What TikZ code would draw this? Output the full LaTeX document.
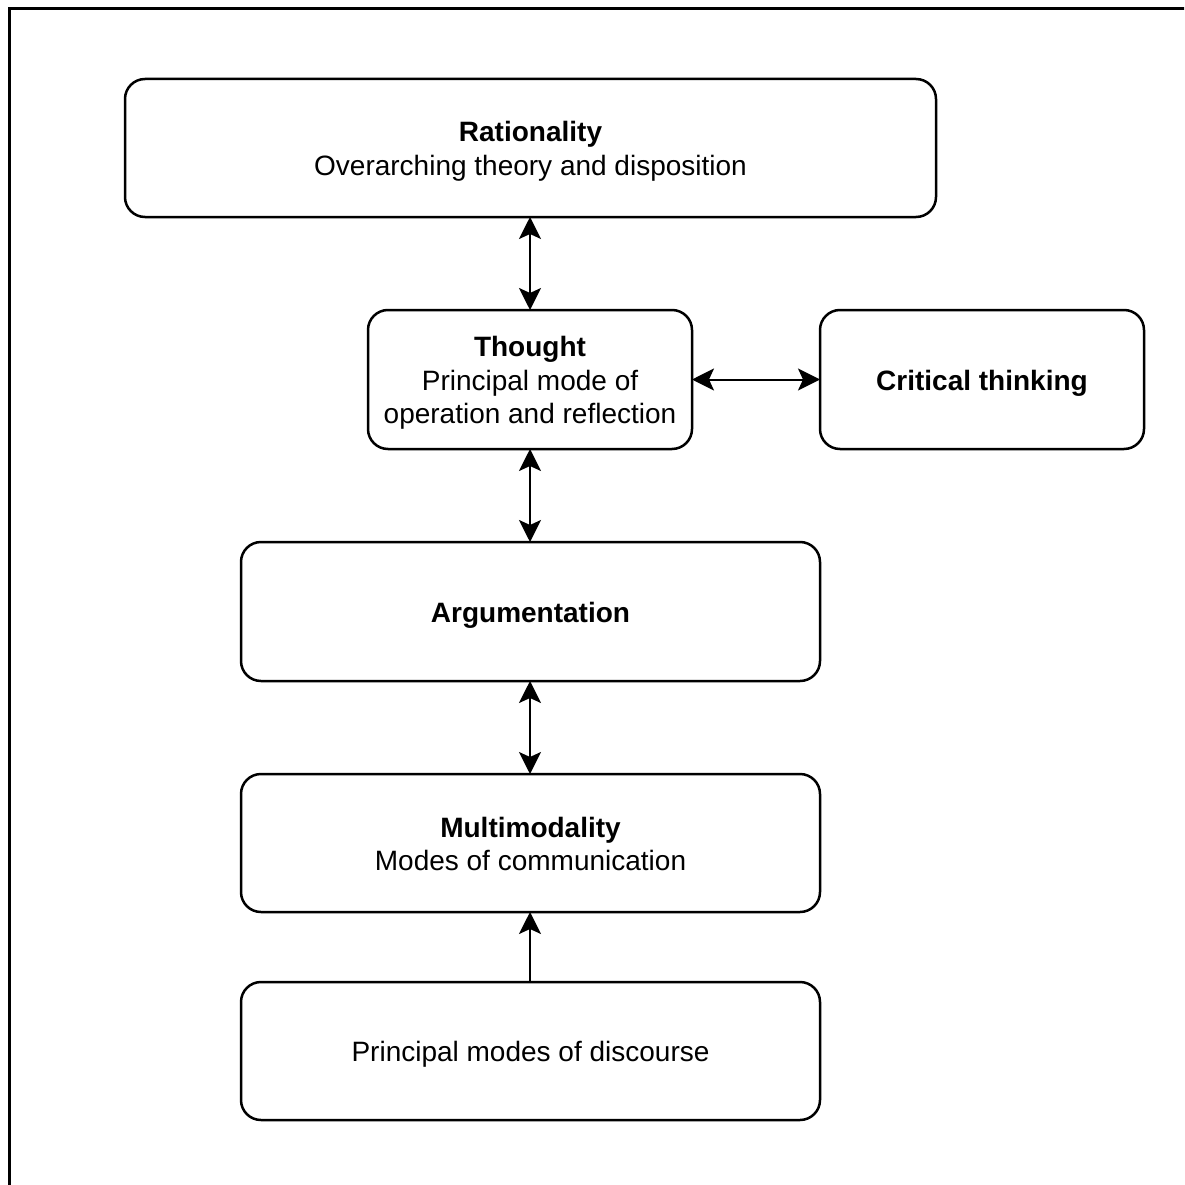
\documentclass[tikz,border=0pt]{standalone}
\usepackage{fontspec}
\setmainfont{Liberation Sans}
\usetikzlibrary{arrows.meta}
% uniform line box: 27pt above the baseline, 5pt below
\newcommand\lbox{\rule[-5pt]{0pt}{32pt}}
\begin{document}
\begin{tikzpicture}[x=1pt,y=-1pt,
  box/.style={draw=black, line width=2.5pt, rounded corners=20pt, fill=white,
    align=center, inner sep=0pt, outer sep=0pt,
    font=\fontsize{28}{32}\selectfont},
  tip/.style={Stealth[length=22pt,width=22pt,inset=5pt]},
  link/.style={line width=2pt, -{Stealth[length=22pt,width=22pt,inset=5pt]}},
  twoway/.style={line width=2pt, {Stealth[length=22pt,width=22pt,inset=5pt]}-{Stealth[length=22pt,width=22pt,inset=5pt]}}]
  \useasboundingbox (0,0) rectangle (1184,1185);
  % outer frame, running off the right and bottom edges
  \begin{scope}
    \clip (0,0) rectangle (1184,1185);
    \draw[line width=3pt] (9,1300) -- (9,9) -- (1300,9);
  \end{scope}

  \node[box, minimum width=811pt, minimum height=138pt] (rat) at (530.5,148)
    {\lbox\textbf{Rationality}\\\lbox Overarching theory and disposition};
  \node[box, minimum width=324pt, minimum height=139pt] (thought) at (530,379.5)
    {\lbox\textbf{Thought}\\\lbox Principal mode of\\\lbox operation and reflection};
  \node[box, minimum width=324pt, minimum height=139pt] (crit) at (982,379.5)
    {\lbox\textbf{Critical thinking}};
  \node[box, minimum width=579pt, minimum height=139pt] (arg) at (530.5,611.5)
    {\lbox\textbf{Argumentation}};
  \node[box, minimum width=579pt, minimum height=138pt] (multi) at (530.5,843)
    {\lbox\textbf{Multimodality}\\\lbox Modes of communication};
  \node[box, minimum width=579pt, minimum height=138pt] (disc) at (530.5,1051)
    {\lbox Principal modes of discourse};

  \draw[twoway] (thought.north) -- (thought.north |- rat.south);
  \draw[twoway] (thought.east) -- (crit.west);
  \draw[twoway] (thought.south) -- (thought.south |- arg.north);
  \draw[twoway] (thought.south |- arg.south) -- (thought.south |- multi.north);
  \draw[link] (thought.south |- disc.north) -- (thought.south |- multi.south);
\end{tikzpicture}
\end{document}
